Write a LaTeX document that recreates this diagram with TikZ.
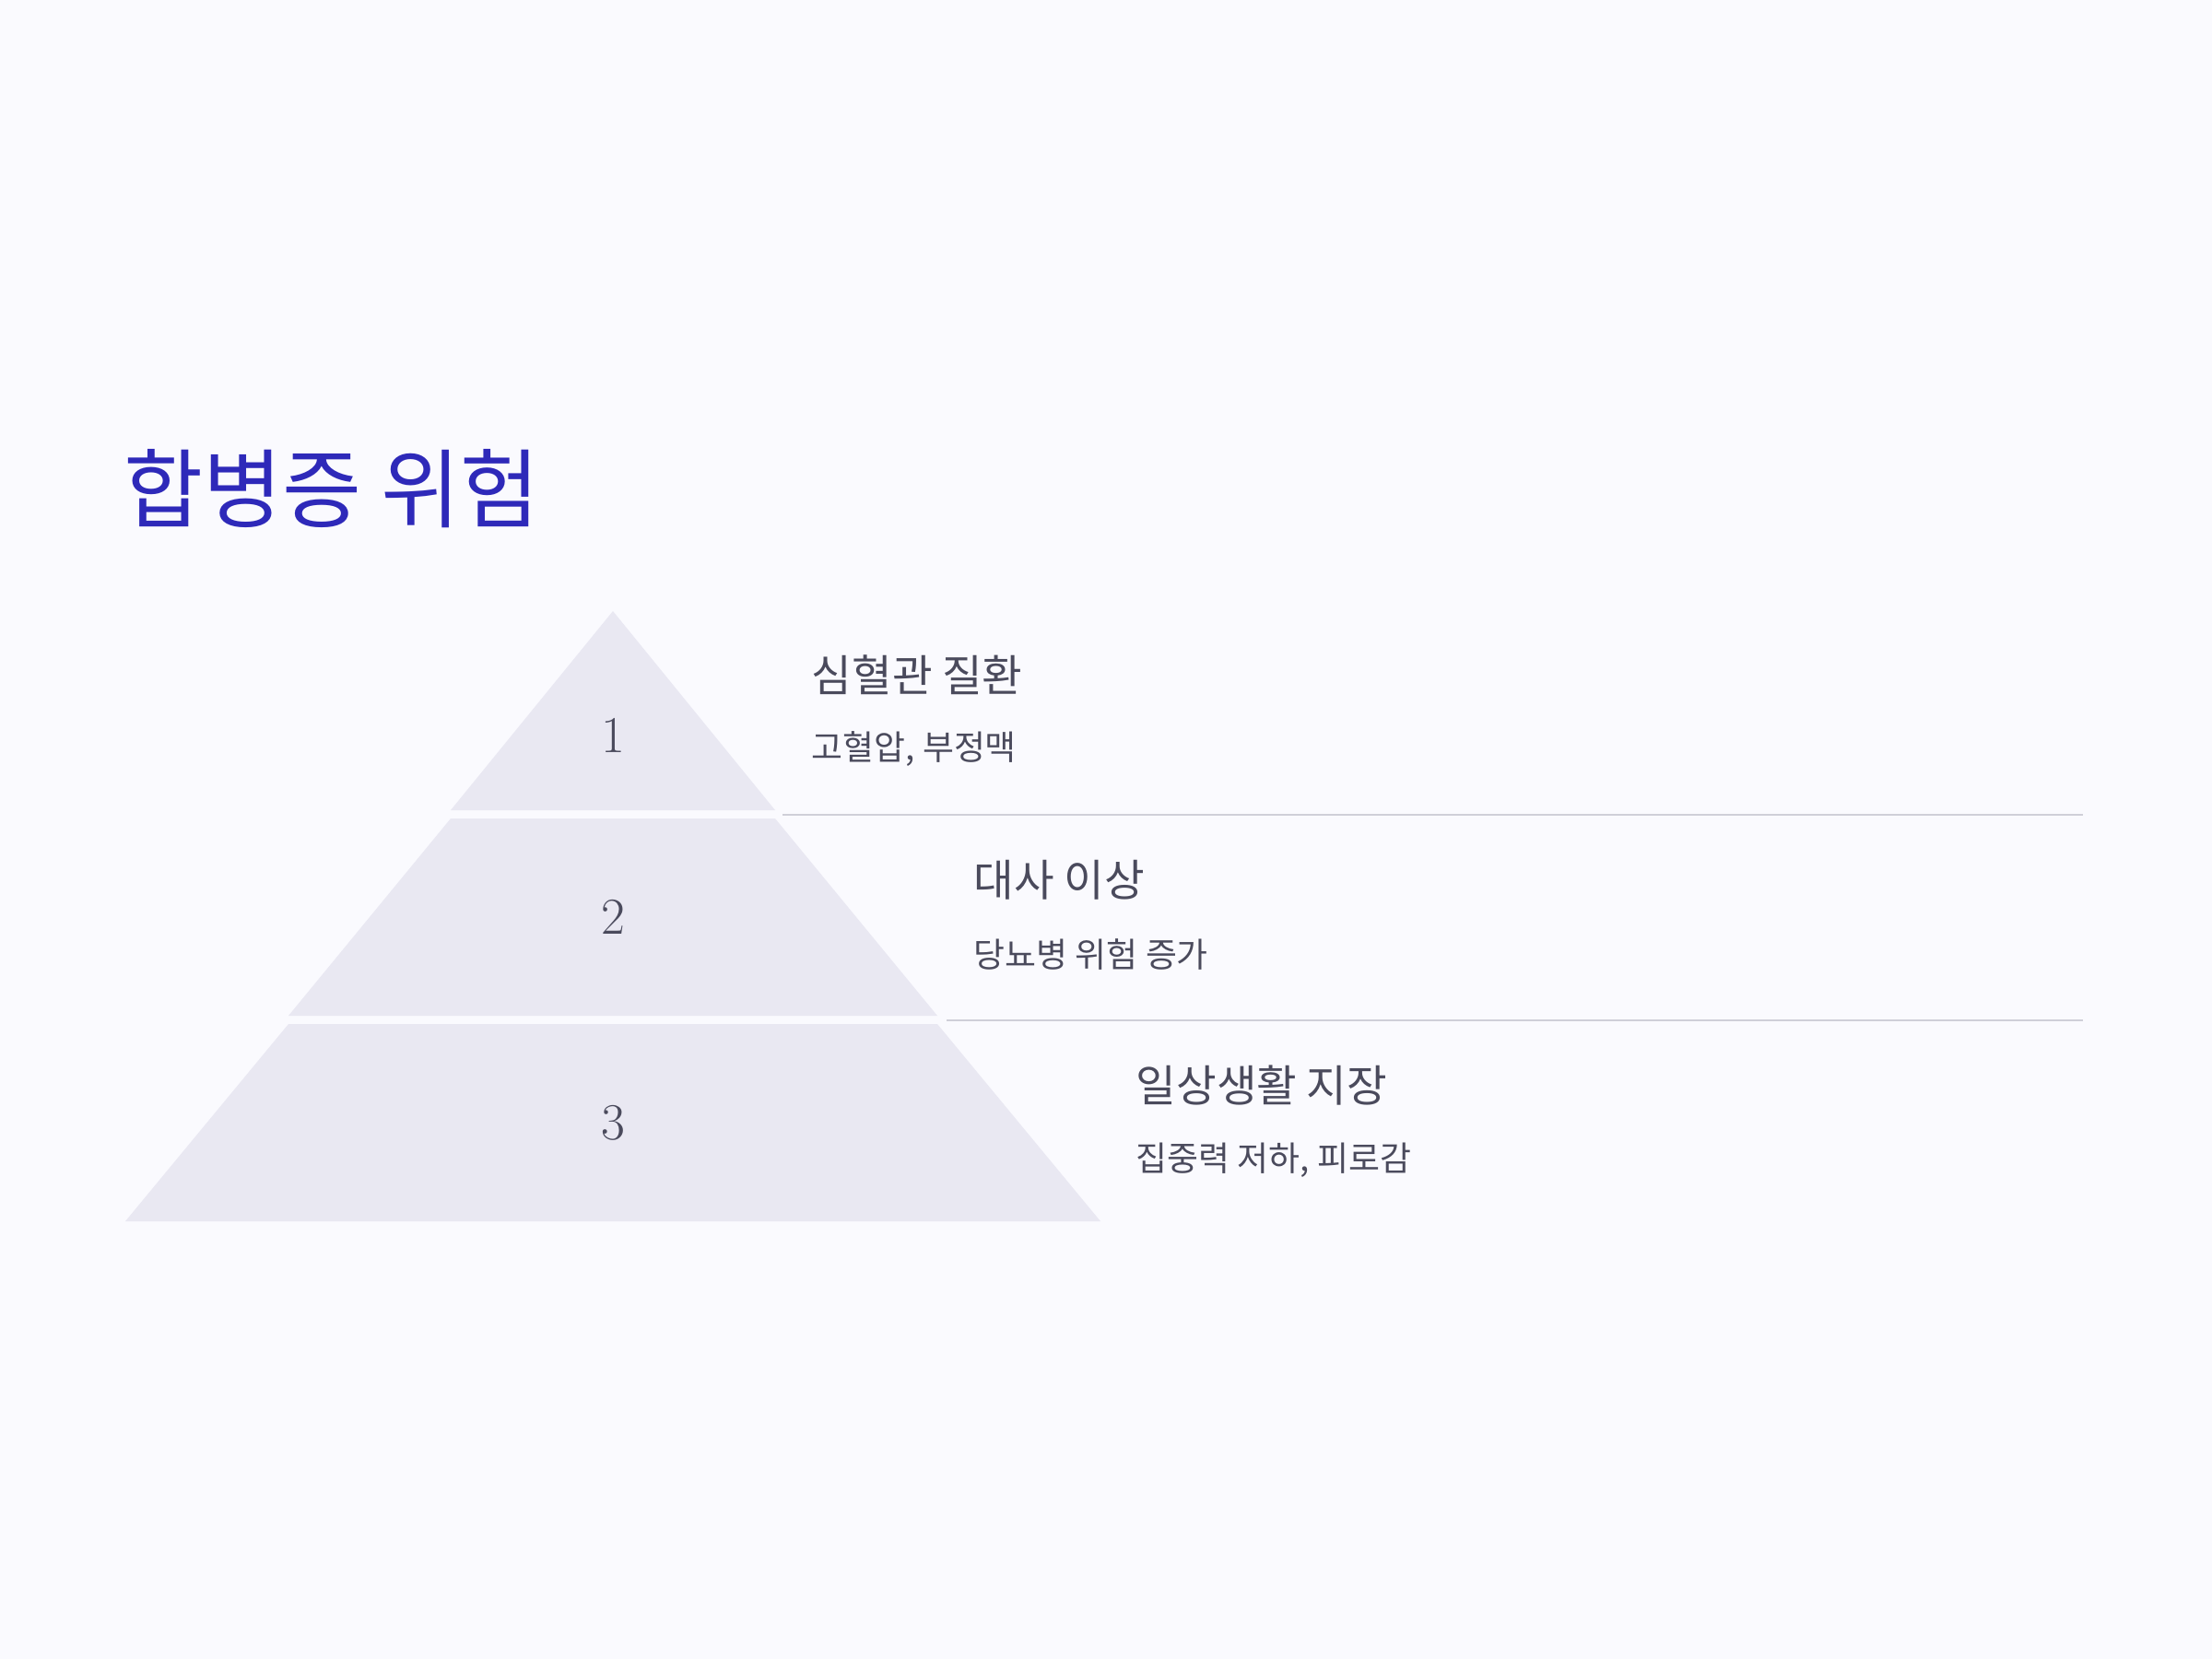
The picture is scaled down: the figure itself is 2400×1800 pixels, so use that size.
\documentclass[tikz,border=0pt]{standalone}
\usepackage{fontspec}
\newfontfamily\krfont{Noto Sans CJK KR}

\definecolor{pagebg}{HTML}{FAFAFE}
\definecolor{tierfill}{HTML}{E9E8F2}
\definecolor{titleblue}{HTML}{2E29B9}
\definecolor{labelgray}{HTML}{4A4A5C}
\definecolor{rulegray}{HTML}{CFCFD8}

\begin{document}
\begin{tikzpicture}[x=0.1mm, y=-0.1mm,
    tier/.style={fill=tierfill},
    tiernum/.style={text=labelgray, inner sep=0pt, font=\fontsize{16}{19}\selectfont},
    riskhead/.style={anchor=west, inner sep=0pt, text=labelgray, font=\krfont\fontsize{13.5}{16}\selectfont},
    risksub/.style={anchor=west, inner sep=0pt, text=labelgray, font=\krfont\fontsize{10.5}{13}\selectfont},
    seprule/.style={draw=rulegray, line width=0.6pt}]

% page
\fill[pagebg] (0,0) rectangle (2400,1800);
\useasboundingbox (0,0) rectangle (2400,1800);

% title
\node[anchor=west, inner sep=0pt, text=titleblue, font=\krfont\fontsize{26.6}{32}\selectfont] (title) at (134,530) {합병증 위험};

% pyramid tiers
\fill[tier] (665,663) -- (841,879) -- (489,879) -- cycle;
\fill[tier] (489,888) -- (841,888) -- (1017,1102) -- (313,1102) -- cycle;
\fill[tier] (313,1111) -- (1017,1111) -- (1194,1325) -- (136,1325) -- cycle;

\node[tiernum] (num1) at (665,798) {1};
\node[tiernum] (num2) at (665,995) {2};
\node[tiernum] (num3) at (665,1218) {3};

% labels
\node[riskhead] (head1) at (880,732) {심혈관 질환};
\node[risksub] (sub1) at (880,813) {고혈압, 부정맥};

\node[riskhead] (head2) at (1056,955) {대사 이상};
\node[risksub] (sub2) at (1056,1036) {당뇨병 위험 증가};

\node[riskhead] (head3) at (1232,1178) {일상생활 지장};
\node[risksub] (sub3) at (1232,1259) {집중력 저하, 피로감};

% separators
\draw[seprule] (849,884) -- (2260,884);
\draw[seprule] (1027,1107) -- (2260,1107);
\end{tikzpicture}
\end{document}
